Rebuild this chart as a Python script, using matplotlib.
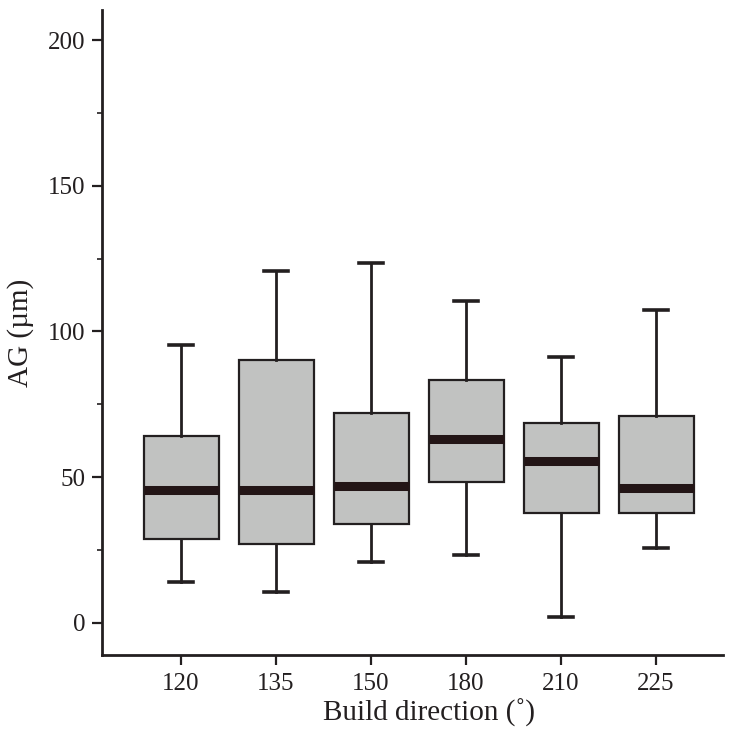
import matplotlib
matplotlib.use("Agg")
import matplotlib.pyplot as plt
from matplotlib.ticker import MultipleLocator

categories = ["120", "135", "150", "180", "210", "225"]
whislo = [14.1, 10.5, 20.8, 23.3, 2.1, 25.7]
q1 = [28.9, 27.0, 33.9, 48.3, 37.7, 37.7]
med = [45.5, 45.5, 47.1, 63.2, 55.7, 46.4]
q3 = [64.3, 90.3, 71.9, 83.2, 68.5, 71.0]
whishi = [95.2, 120.8, 123.5, 110.3, 91.1, 107.3]

plt.rcParams['font.family'] = ['Liberation Serif', 'DejaVu Serif']

fig = plt.figure(figsize=(7.35, 7.37), dpi=100)
ax = fig.add_axes([0.1384, 0.1113, 0.8453, 0.8751])

stats = []
for i, c in enumerate(categories):
    stats.append(dict(label=c, whislo=whislo[i], q1=q1[i], med=med[i],
                      q3=q3[i], whishi=whishi[i], fliers=[]))

edge = '#231f20'
ax.bxp(stats, positions=range(len(categories)), widths=0.79, showfliers=False,
       patch_artist=True, capwidths=0.26,
       boxprops=dict(facecolor='#c1c2c1', edgecolor=edge, linewidth=1.6),
       medianprops=dict(color='#231516', linewidth=6.5, solid_capstyle='butt'),
       whiskerprops=dict(color=edge, linewidth=2.0),
       capprops=dict(color=edge, linewidth=2.6))

ax.set_xlim(-0.835, 5.705)
ax.set_ylim(-11, 210.3)
ax.set_xticks(range(len(categories)))
ax.set_xticklabels(categories)
ax.yaxis.set_major_locator(MultipleLocator(50))
ax.yaxis.set_minor_locator(MultipleLocator(25))

for s in ['top', 'right']:
    ax.spines[s].set_visible(False)
for s in ['left', 'bottom']:
    ax.spines[s].set_linewidth(2.0)
    ax.spines[s].set_color(edge)

ax.tick_params(axis='both', which='major', direction='out', length=7, width=1.6,
               colors=edge, labelsize=18, labelcolor='#231f20')
ax.tick_params(axis='y', which='minor', direction='out', length=3.5, width=1.2, colors=edge)
ax.tick_params(axis='y', which='major', pad=5)
ax.tick_params(axis='x', which='major', pad=6)

ax.set_ylabel("AG (µm)", fontsize=21, color='#231f20', labelpad=10)
ax.set_xlabel("Build direction (˚)", fontsize=21, color='#231f20')
ax.xaxis.set_label_coords(0.527, -0.068)

fig.savefig("out.png", dpi=100)
